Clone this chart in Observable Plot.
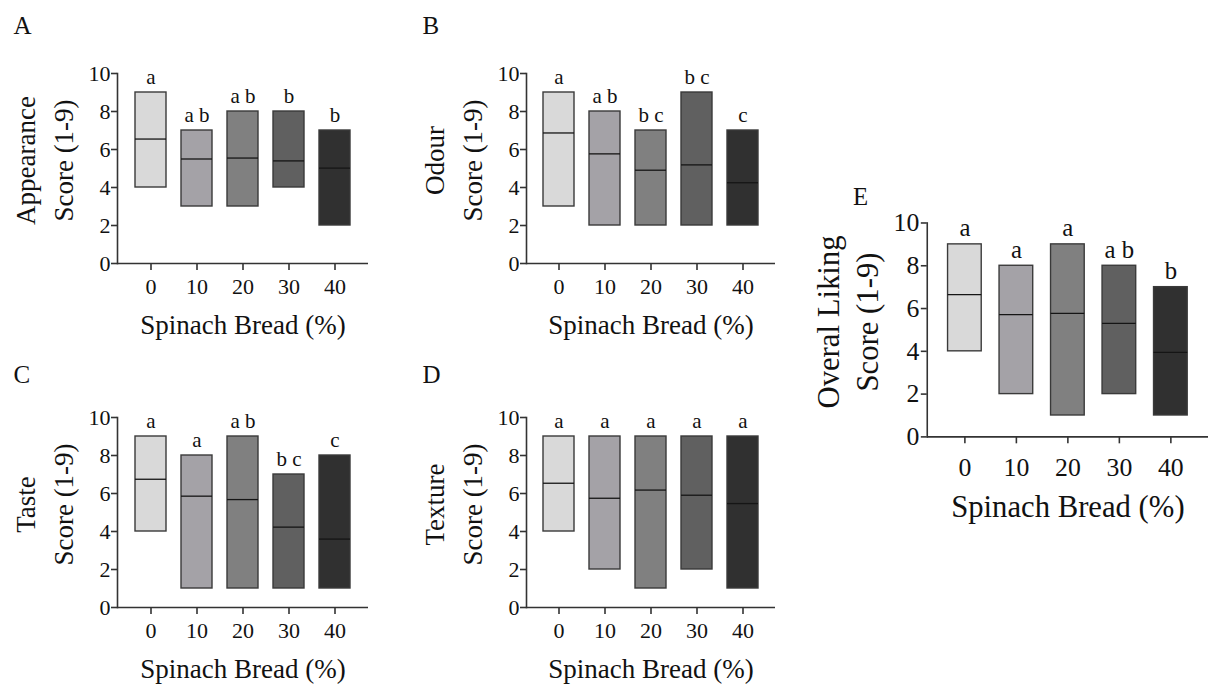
<!DOCTYPE html>
<html>
<head>
<meta charset="utf-8">
<script src="https://cdn.jsdelivr.net/npm/d3@7"></script>
<script src="https://cdn.jsdelivr.net/npm/@observablehq/plot@0.6"></script>
<style>
  html, body { margin: 0; padding: 0; background: #fff; overflow: hidden; font-family: 'Liberation Serif', serif; }
  #wrap { position: relative; width: 1208px; height: 684px; }
  .panel { position: absolute; }
  .panel svg { overflow: visible; font-family: 'Liberation Serif', 'DejaVu Serif', serif !important; }
  .panel svg text { font-family: 'Liberation Serif', 'DejaVu Serif', serif !important; }
</style>
</head>
<body>
<div id="wrap"></div>
<script>
// ---- data ----
const pcts = ["0", "10", "20", "30", "40"];
const fills = ["#d9d9d9", "#a4a2a7", "#808080", "#606060", "#303030"];
const xTitle = "Spinach Bread (%)";
const yTicks = [0, 2, 4, 6, 8, 10];

const appearanceMin = [4, 3, 3, 4, 2];
const appearanceMax = [9, 7, 8, 8, 7];
const appearanceMed = [6.55, 5.5, 5.55, 5.4, 5.02];
const appearanceLetters = ["a", "a b", "a b", "b", "b"];

const odourMin = [3, 2, 2, 2, 2];
const odourMax = [9, 8, 7, 9, 7];
const odourMed = [6.87, 5.77, 4.91, 5.19, 4.25];
const odourLetters = ["a", "a b", "b c", "b c", "c"];

const tasteMin = [4, 1, 1, 1, 1];
const tasteMax = [9, 8, 9, 7, 8];
const tasteMed = [6.75, 5.86, 5.68, 4.23, 3.6];
const tasteLetters = ["a", "a", "a b", "b c", "c"];

const textureMin = [4, 2, 1, 2, 1];
const textureMax = [9, 9, 9, 9, 9];
const textureMed = [6.54, 5.75, 6.18, 5.91, 5.47];
const textureLetters = ["a", "a", "a", "a", "a"];

const overallMin = [4, 2, 1, 2, 1];
const overallMax = [9, 8, 9, 8, 7];
const overallMed = [6.65, 5.72, 5.77, 5.31, 3.95];
const overallLetters = ["a", "a", "a", "a b", "b"];

function rows(mins, maxs, meds, letters) {
  return pcts.map((p, i) => ({pct: p, min: mins[i], max: maxs[i], median: meds[i], letter: letters[i]}));
}

const font = "'Liberation Serif', 'DejaVu Serif', serif";
const axisColor = "#333";

function panel(cfg) {
  const data = rows(cfg.mins, cfg.maxs, cfg.meds, cfg.letters);
  const s = cfg.scale;
  const chart = Plot.plot({
    width: cfg.width,
    height: cfg.height,
    marginLeft: cfg.ml,
    marginRight: cfg.mr,
    marginTop: cfg.mt,
    marginBottom: cfg.mb,
    style: {fontFamily: font, color: "#111", background: "transparent", overflow: "visible"},
    x: {type: "band", domain: pcts, paddingInner: cfg.pi, paddingOuter: cfg.po, label: null},
    y: {domain: [0, 10], label: null},
    color: {type: "ordinal", domain: pcts, range: fills},
    marks: [
      Plot.barY(data, {x: "pct", y1: "min", y2: "max", fill: "pct", stroke: "#3a3a3a", strokeWidth: 1.4}),
      Plot.tickY(data, {x: "pct", y: "median", stroke: "#151515", strokeWidth: 1.3}),
      Plot.text(data, {x: "pct", y: "max", text: "letter", dy: -s.letterDy, fontSize: s.letterSize, fontFamily: font, fill: "#111"}),
      Plot.frame({anchor: "left", stroke: axisColor, strokeWidth: 1.6}),
      Plot.ruleY([0], {stroke: axisColor, strokeWidth: 1.6}),
      Plot.axisY({ticks: yTicks, tickSize: 6, tickPadding: s.yPad, fontSize: s.tickSize, fontFamily: font, stroke: axisColor, strokeWidth: 1.6, label: null}),
      Plot.axisX({tickSize: 7, tickPadding: s.xPad, fontSize: s.tickSize, fontFamily: font, stroke: axisColor, strokeWidth: 1.6, label: null}),
      Plot.text([xTitle], {frameAnchor: "bottom", textAnchor: "middle", lineAnchor: "middle", dy: s.xTitleDy, fontSize: s.titleSize, fontFamily: font, fill: "#111"}),
      Plot.text([cfg.yTitle], {frameAnchor: "left", textAnchor: "middle", lineAnchor: "middle", rotate: -90, dx: s.yTitleDx, dy: -8, fontSize: s.titleSize, fontFamily: font, fill: "#111"}),
      Plot.text(["Score (1-9)"], {frameAnchor: "left", textAnchor: "middle", lineAnchor: "middle", rotate: -90, dx: s.scoreDx, dy: -8, fontSize: s.titleSize, fontFamily: font, fill: "#111"}),
      Plot.text([cfg.tag], {frameAnchor: "top-left", dx: cfg.tagDx, dy: cfg.tagDy, textAnchor: "start", lineAnchor: "bottom", fontSize: 25, fontFamily: font, fill: "#111"})
    ]
  });
  const div = document.createElement("div");
  div.className = "panel";
  div.style.left = cfg.left + "px";
  div.style.top = cfg.top + "px";
  div.appendChild(chart);
  document.getElementById("wrap").appendChild(div);
}

const small = {letterDy: 15, letterSize: 21, tickSize: 22, yPad: 1, xPad: 8, xTitleDy: 62, titleSize: 27, yTitleDx: -91, scoreDx: -53};
const big = {letterDy: 16, letterSize: 25, tickSize: 26, yPad: 2, xPad: 14, xTitleDy: 71, titleSize: 31, yTitleDx: -99, scoreDx: -60};

panel({tag: "A", yTitle: "Appearance", mins: appearanceMin, maxs: appearanceMax, meds: appearanceMed, letters: appearanceLetters,
  left: 0, top: 0, width: 400, height: 340, ml: 117, mr: 32, mt: 73, mb: 77, pi: 0.336, po: 0.353, scale: small, tagDx: -104, tagDy: -40});
panel({tag: "B", yTitle: "Odour", mins: odourMin, maxs: odourMax, meds: odourMed, letters: odourLetters,
  left: 400, top: 0, width: 400, height: 340, ml: 126, mr: 25, mt: 73, mb: 77, pi: 0.336, po: 0.325, scale: small, tagDx: -104, tagDy: -40});
panel({tag: "C", yTitle: "Taste", mins: tasteMin, maxs: tasteMax, meds: tasteMed, letters: tasteLetters,
  left: 0, top: 340, width: 400, height: 344, ml: 117, mr: 32, mt: 77, mb: 77, pi: 0.336, po: 0.353, scale: small, tagDx: -104, tagDy: -35});
panel({tag: "D", yTitle: "Texture", mins: textureMin, maxs: textureMax, meds: textureMed, letters: textureLetters,
  left: 400, top: 340, width: 400, height: 344, ml: 126, mr: 25, mt: 77, mb: 77, pi: 0.336, po: 0.325, scale: small, tagDx: -104, tagDy: -35});
panel({tag: "E", yTitle: "Overal Liking", mins: overallMin, maxs: overallMax, meds: overallMed, letters: overallLetters,
  left: 800, top: 170, width: 412, height: 370, ml: 128, mr: 0, mt: 53, mb: 101, pi: 0.344, po: 0.358, scale: big, tagDx: -75, tagDy: -18});
</script>
</body>
</html>
